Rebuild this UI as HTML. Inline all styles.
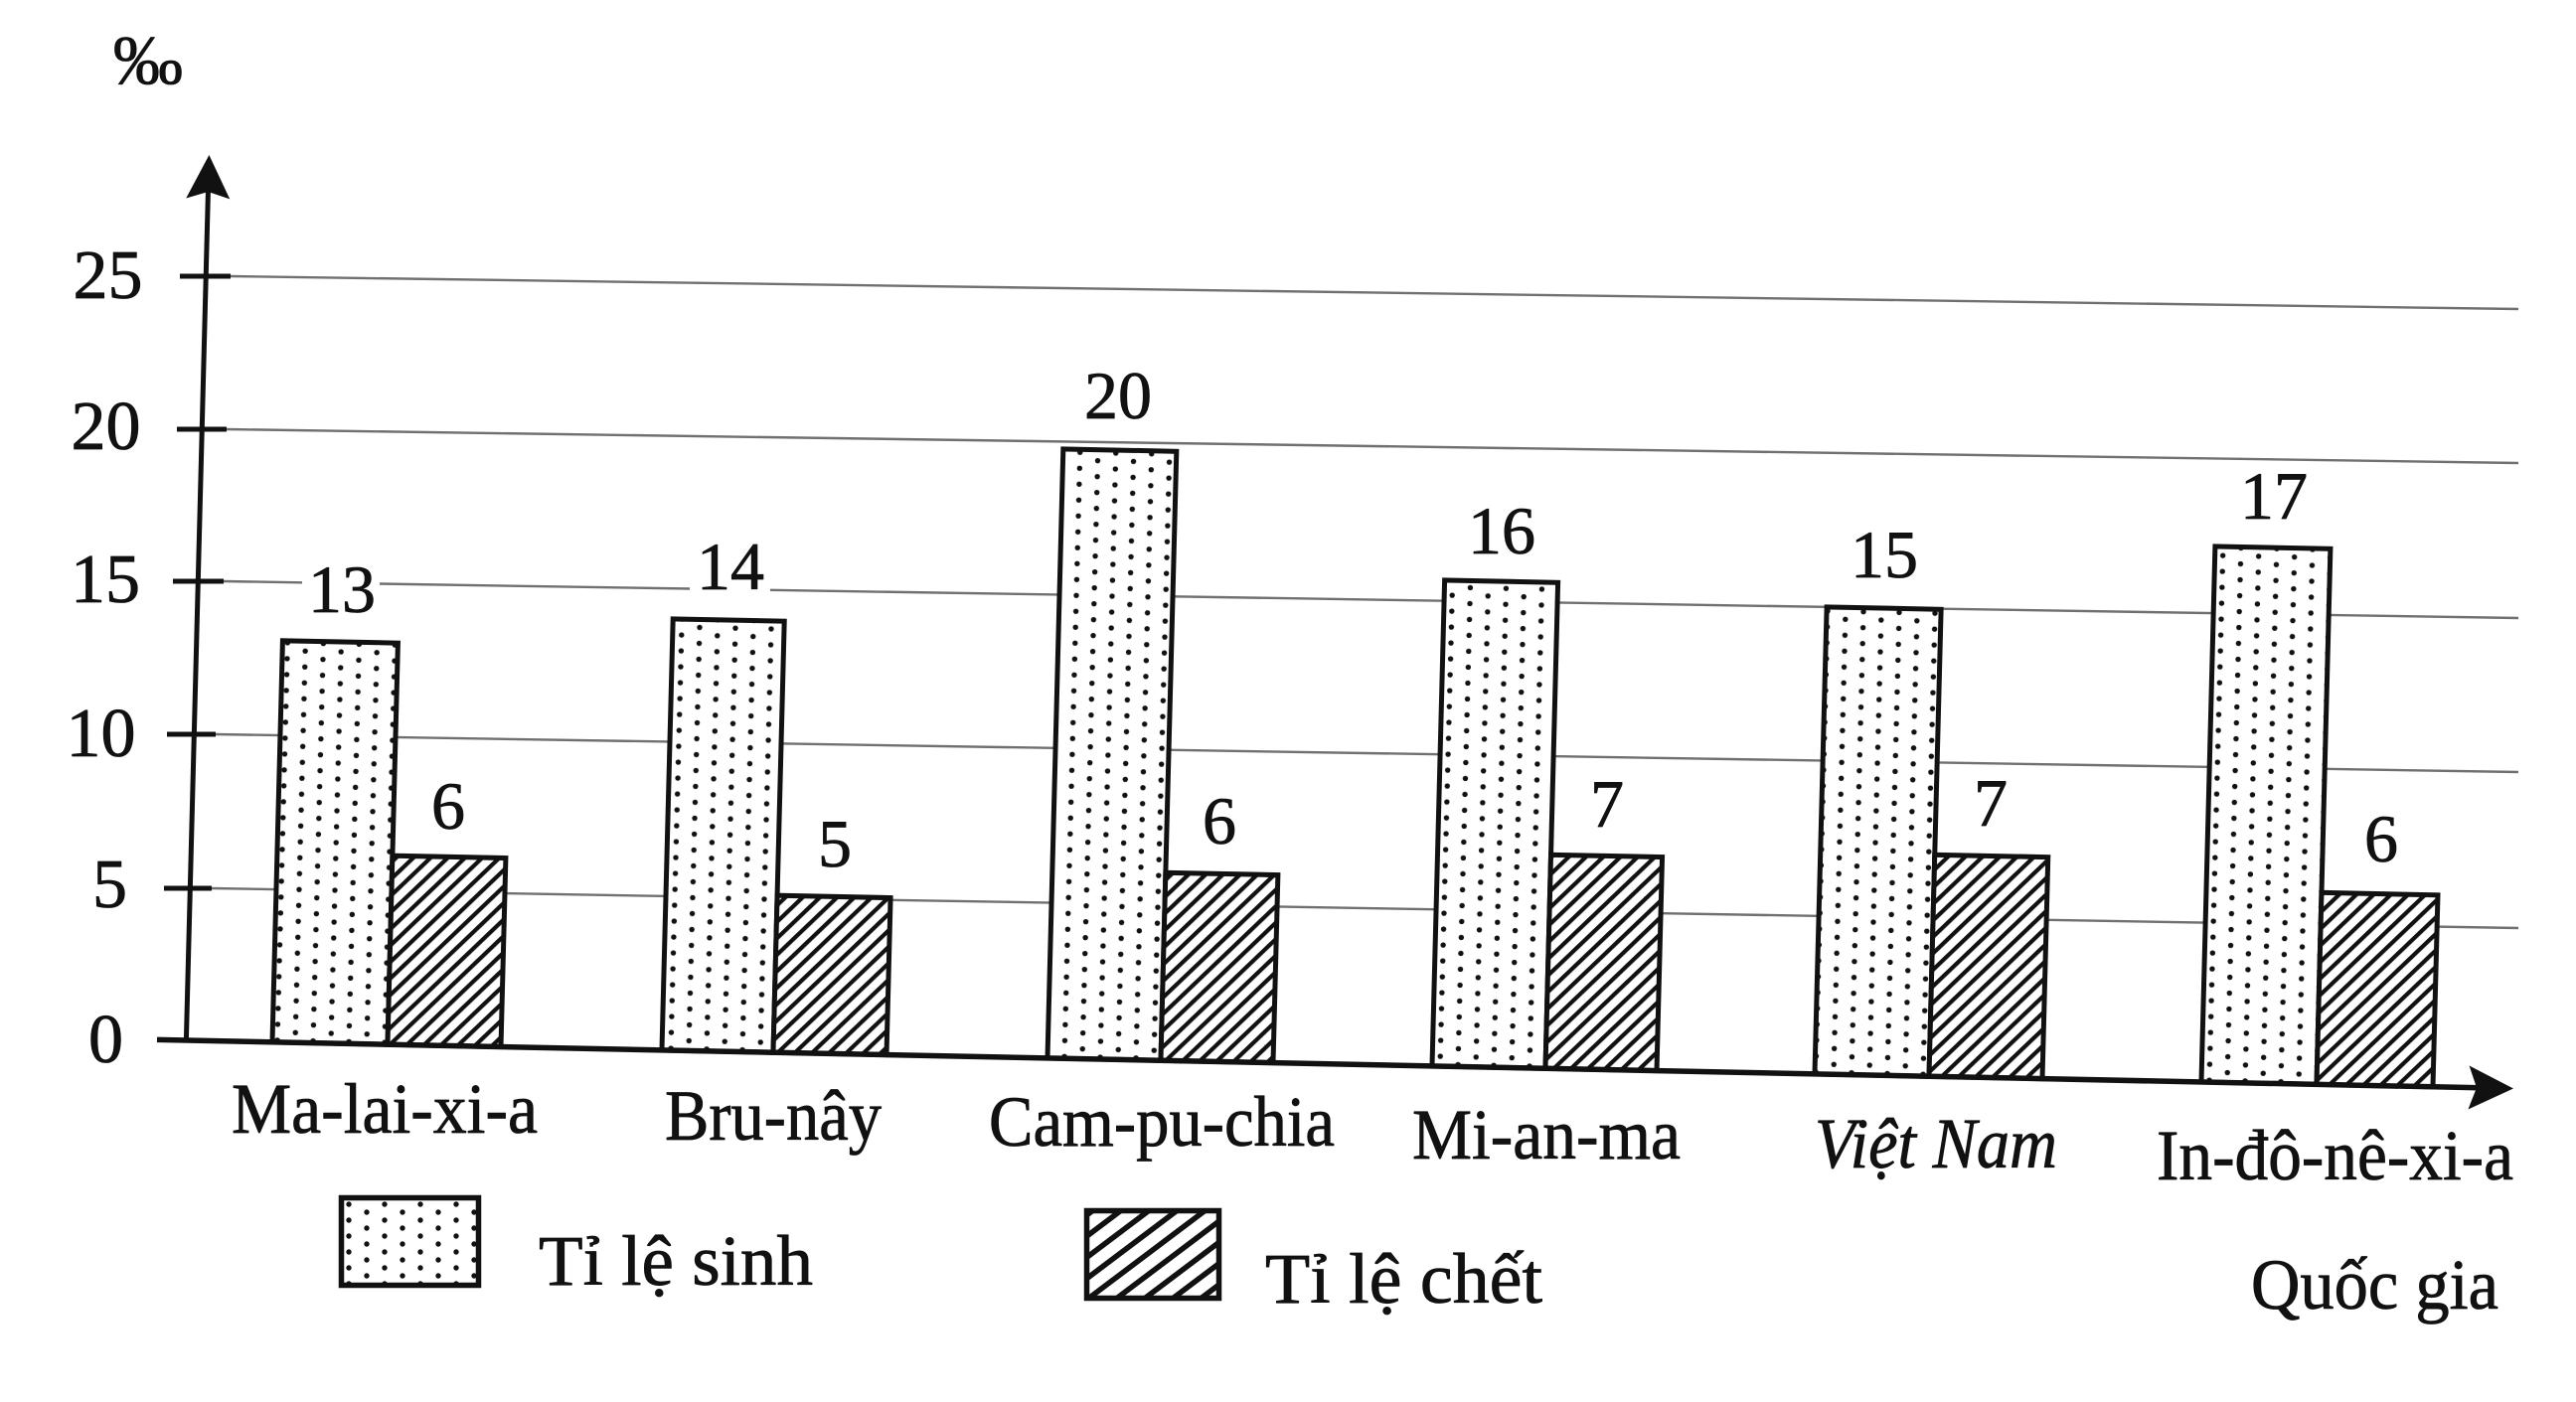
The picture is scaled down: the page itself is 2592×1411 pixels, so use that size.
<!DOCTYPE html>
<html>
<head>
<meta charset="utf-8">
<style>
html,body{margin:0;padding:0;background:#fff;}
svg{display:block;}
text{font-family:"Liberation Serif","DejaVu Serif",serif;fill:#111;stroke:#111;stroke-width:0.8;stroke-linejoin:round;}
</style>
</head>
<body>
<svg width="2592" height="1411" viewBox="0 0 2592 1411" xmlns="http://www.w3.org/2000/svg">
<defs>
  <pattern id="dots" patternUnits="userSpaceOnUse" width="36" height="16">
    <rect x="0" y="0" width="36" height="16" fill="#fff"/>
    <circle cx="9" cy="4" r="2.7" fill="#111"/>
    <circle cx="27" cy="12" r="2.7" fill="#111"/>
  </pattern>
  <pattern id="hatch" patternUnits="userSpaceOnUse" width="12" height="12" patternTransform="rotate(-45)">
    <rect x="0" y="0" width="12" height="12" fill="#fff"/>
    <rect x="0" y="0" width="12" height="4.2" fill="#111"/>
  </pattern>
  <pattern id="hatch2" patternUnits="userSpaceOnUse" width="17" height="17" patternTransform="rotate(-37)">
    <rect x="0" y="0" width="17" height="17" fill="#fff"/>
    <rect x="0" y="0" width="17" height="5.5" fill="#111"/>
  </pattern>
</defs>
<rect x="0" y="0" width="2592" height="1411" fill="#fff"/>

<!-- gridlines -->
<g stroke="#707070" stroke-width="2.4" fill="none">
  <path d="M232 278 L2534 311"/>
  <path d="M228 432 L2534 466"/>
  <path d="M225 585 L304 586.3 M382 587.5 L694 592.5 M775 593.8 L2534 622"/>
  <path d="M217 739 L2534 777"/>
  <path d="M213 894 L2534 934"/>
</g>

<!-- ticks -->
<g stroke="#111" stroke-width="5">
  <line x1="181" y1="278" x2="232" y2="278"/>
  <line x1="178" y1="432" x2="228" y2="432"/>
  <line x1="174" y1="585" x2="225" y2="585"/>
  <line x1="168" y1="739" x2="217" y2="739"/>
  <line x1="165" y1="894" x2="213" y2="894"/>
</g>

<!-- bars and axes (slightly skewed like the scan) -->
<g transform="matrix(1 0.0207 -0.0258 1 27.6 -26.9)" stroke="#111" stroke-width="5">
  <rect x="274" y="666" width="116" height="404" fill="url(#dots)"/>
  <rect x="390" y="880" width="114" height="190" fill="url(#hatch)"/>

  <rect x="666" y="636" width="112" height="434" fill="url(#dots)"/>
  <rect x="778" y="912" width="114" height="158" fill="url(#hatch)"/>

  <rect x="1054" y="457" width="114" height="613" fill="url(#dots)"/>
  <rect x="1168" y="881" width="113" height="189" fill="url(#hatch)"/>

  <rect x="1441" y="581" width="114" height="489" fill="url(#dots)"/>
  <rect x="1555" y="855" width="112" height="215" fill="url(#hatch)"/>

  <rect x="1826" y="600" width="115" height="470" fill="url(#dots)"/>
  <rect x="1941" y="847" width="114" height="223" fill="url(#hatch)"/>

  <rect x="2215" y="531" width="116" height="539" fill="url(#dots)"/>
  <rect x="2331" y="877" width="117" height="193" fill="url(#hatch)"/>

  <line x1="158" y1="1070" x2="2495" y2="1070" stroke-width="5.5"/>
  <polygon points="2529,1070 2484,1048 2492,1070 2484,1092" fill="#111" stroke="none"/>
  <line x1="187.4" y1="1072" x2="187.4" y2="210" stroke-width="5"/>
  <polygon points="187.4,179 209.4,223 187.4,216 165.4,223" fill="#111" stroke="none"/>
</g>

<!-- unit -->
<text x="149" y="84" font-size="70" text-anchor="middle">‰</text>

<!-- tick labels -->
<g font-size="70" text-anchor="middle">
  <text x="108.5" y="300">25</text>
  <text x="106.5" y="452">20</text>
  <text x="106" y="606">15</text>
  <text x="101.5" y="761">10</text>
  <text x="110.5" y="913">5</text>
  <text x="106.5" y="1069">0</text>
</g>

<!-- value labels -->
<g font-size="68" text-anchor="middle">
  <text x="344" y="616">13</text>
  <text x="451" y="834">6</text>
  <text x="735" y="593">14</text>
  <text x="840" y="872">5</text>
  <text x="1125" y="421">20</text>
  <text x="1227" y="849">6</text>
  <text x="1511" y="557">16</text>
  <text x="1617" y="832">7</text>
  <text x="1896" y="581">15</text>
  <text x="2003" y="831">7</text>
  <text x="2288" y="522">17</text>
  <text x="2396" y="867">6</text>
</g>

<!-- category labels -->
<g font-size="72">
  <text x="233" y="1140" textLength="308" lengthAdjust="spacingAndGlyphs">Ma-lai-xi-a</text>
  <text x="669" y="1147" textLength="218" lengthAdjust="spacingAndGlyphs">Bru-nây</text>
  <text x="995" y="1153" textLength="348" lengthAdjust="spacingAndGlyphs">Cam-pu-chia</text>
  <text x="1421" y="1166" textLength="270" lengthAdjust="spacingAndGlyphs">Mi-an-ma</text>
  <text x="1826" y="1175" textLength="244" lengthAdjust="spacingAndGlyphs" font-style="italic">Việt Nam</text>
  <text x="2170" y="1187" textLength="359" lengthAdjust="spacingAndGlyphs">In-đô-nê-xi-a</text>
  <text x="2265" y="1317" textLength="249" lengthAdjust="spacingAndGlyphs">Quốc gia</text>
</g>

<!-- legend -->
<rect x="343.5" y="1205.5" width="138" height="88" fill="url(#dots)" stroke="#111" stroke-width="5.5"/>
<text x="542" y="1293" font-size="72" textLength="276" lengthAdjust="spacingAndGlyphs">Tỉ lệ sinh</text>
<rect x="1093.5" y="1218.5" width="133" height="88" fill="url(#hatch2)" stroke="#111" stroke-width="5.5"/>
<text x="1273" y="1311" font-size="72" textLength="279" lengthAdjust="spacingAndGlyphs">Tỉ lệ chết</text>
</svg>
</body>
</html>
